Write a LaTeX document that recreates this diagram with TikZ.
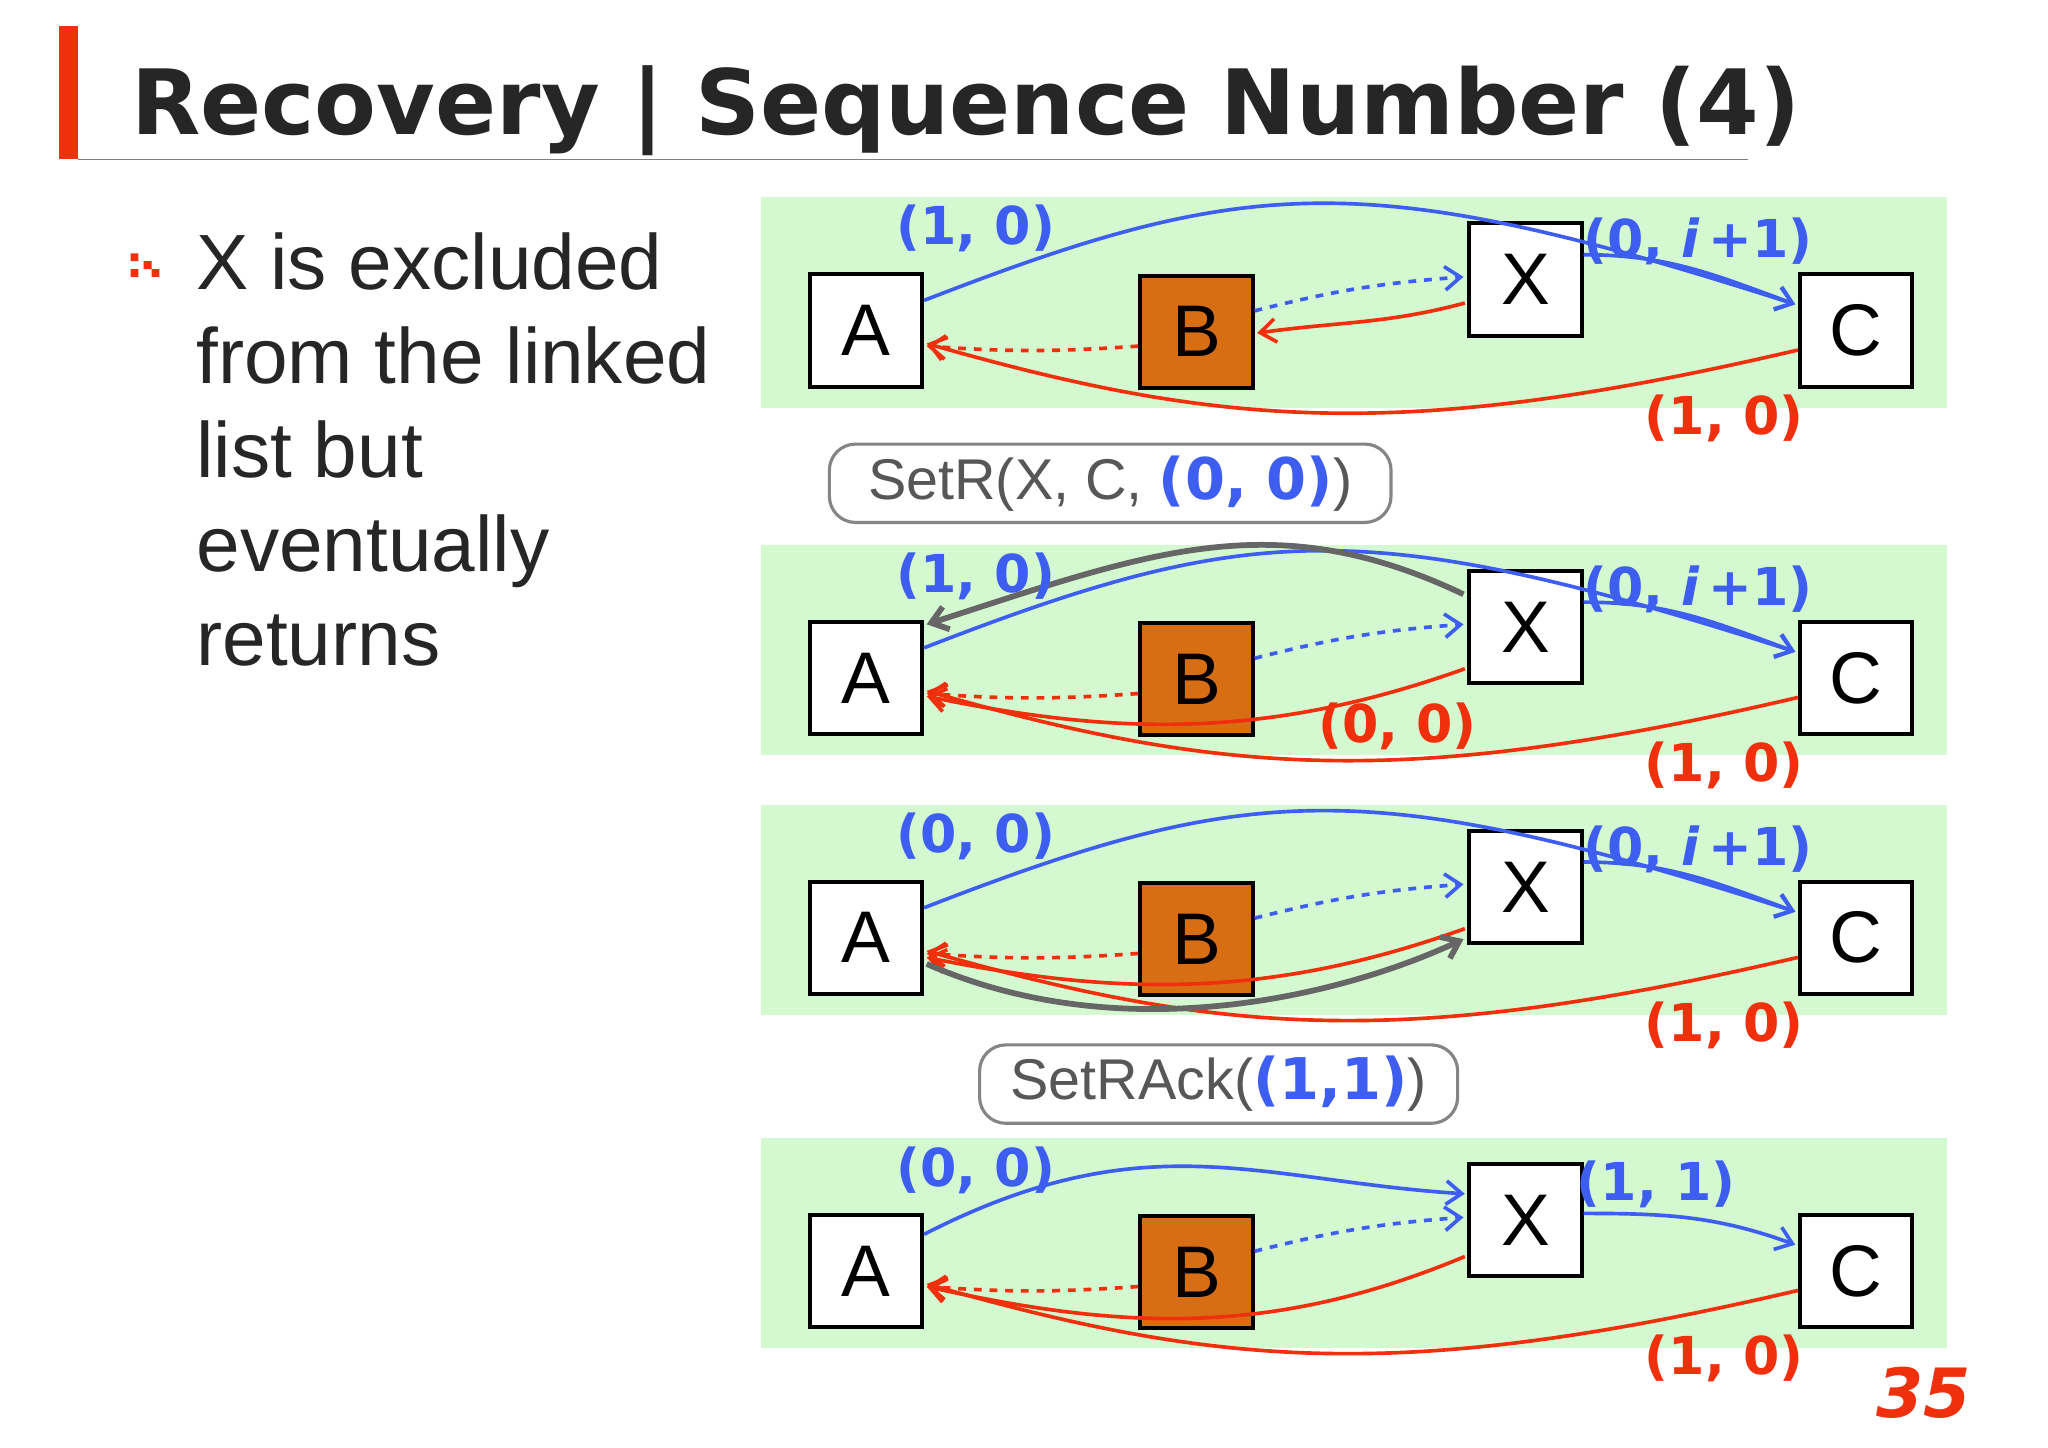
\documentclass[tikz,border=0pt]{standalone}
\usepackage{fontspec}
\setmainfont{Liberation Sans}
\newfontfamily\vfont{DejaVu Sans}
\usepackage{graphicx}
\usetikzlibrary{arrows.meta,calc}
\definecolor{pgreen}{HTML}{D4F8D0}
\definecolor{borange}{HTML}{D86E14}
\definecolor{lblue}{HTML}{3D5EF0}
\definecolor{lred}{HTML}{F0300C}
\definecolor{lgray}{HTML}{666666}
\tikzset{
 box/.style={draw=black,line width=1.5pt,minimum width=43pt,minimum height=43pt,inner sep=0pt,font=\fontsize{28}{30}\selectfont},
 tip/.style={-{Straight Barb[length=6pt,width=9pt]}},
 bl/.style={tip,draw=lblue,line width=1.4pt},
 rd/.style={tip,draw=lred,line width=1.4pt},
 gr/.style={tip,draw=lgray,line width=2.2pt},
 blab/.style={text=lblue,font=\vfont\bfseries\fontsize{20}{22}\selectfont},
 rlab/.style={text=lred,font=\vfont\bfseries\fontsize{20}{22}\selectfont},
 cmd/.style={draw=lgray!80,line width=1.2pt,rounded corners=10pt,fill=white,text=lgray!85!black,font=\fontsize{22}{24}\selectfont,inner sep=0pt}
}
\begin{document}
\begin{tikzpicture}[x=0.5pt,y=-0.5pt]
\fill[white] (0,0) rectangle (1568,1108);
\useasboundingbox (0,0) rectangle (1568,1108);
% title
\fill[lred] (45,20) rectangle (60,122);
\draw[gray,line width=0.6pt] (60,122) -- (1338,122);
\node[anchor=base west,inner sep=0pt] (title) at (100,103) {\resizebox{639pt}{!}{\vfont\bfseries\color{black!85}Recovery | Sequence Number (4)}};
% bullet
\fill[lred] (100,194) rectangle (106,200) (100,206) rectangle (106,212) (110,200) rectangle (116,206) (116,206) rectangle (122,212);
\node[anchor=north west,inner sep=0pt,align=left,font=\fontsize{30}{36}\selectfont,text=black!85] (txt) at (150,178) {X is excluded\\from the linked\\list but\\eventually\\returns};
% panels
\foreach \oy in {0,266,465,720}{\fill[pgreen] (583,151+\oy) rectangle (1491,312+\oy);}
\newcommand\mkboxes[2]{%
 \node[box,fill=white] (A#1) at (663,253+#2) {A};
 \node[box,fill=borange] (B#1) at (916,254+#2) {B};
 \node[box,fill=white] (X#1) at (1168,214+#2) {X};
 \node[box,fill=white] (C#1) at (1421,253+#2) {C};
 \draw[bl,dashed] ($(B#1.east)+(0,-16)$) to[bend left=5] ($(X#1.west)+(-3,-2)$);
 \draw[rd,dashed] ($(B#1.west)+(0,11)$) to[bend left=4] ($(A#1.east)+(2,12)$);
 \draw[rd] ($(C#1.west)+(0,15)$) .. controls ($(C#1.west)+(-300,85)$) and ($(A#1.east)+(230,75)$) .. ($(A#1.east)+(2,10)$);
}
\newcommand\blueAC[1]{%
 \draw[bl] ($(A#1.east)+(0,-23)$) .. controls ($(A#1.east)+(250,-120)$) and ($(C#1.west)+(-330,-125)$) .. ($(C#1.west)+(-2,-20)$);
 \draw[bl] ($(X#1.east)+(0,-19)$) to[out=0,in=160] ($(C#1.west)+(-2,-20)$);
}
% panel 1
\mkboxes{1}{0}\blueAC{1}
\draw[rd] ($(X1.west)+(-2,18)$) to[out=195,in=8] ($(B1.east)+(2,1)$);
\node[blab] (l1a) at (747,175) {(1, 0)};
\node[blab] (l1b) at (1300,185) {(0, \textit{i}\,+1)};
\node[rlab] (l1c) at (1320,320) {(1, 0)};
\node[cmd,minimum width=215pt,minimum height=30pt] (c1) at (850,370) {SetR(X, C, {\vfont\bfseries\color{lblue}(0, 0)})};
% panel 2
\mkboxes{2}{266}\blueAC{2}
\draw[rd] ($(X2.west)+(-2,32)$) .. controls ($(X2.west)+(-150,85)$) and ($(A2.east)+(150,45)$) .. ($(A2.east)+(2,14)$);
\draw[gr] ($(X2.west)+(-3,-25)$) .. controls ($(X2.west)+(-150,-95)$) and ($(A2.east)+(170,-95)$) .. ($(A2.east)+(2,-41)$);
\node[blab] (l2a) at (747,441) {(1, 0)};
\node[blab] (l2b) at (1300,451) {(0, \textit{i}\,+1)};
\node[rlab] (l2c) at (1070,556) {(0, 0)};
\node[rlab] (l2d) at (1320,586) {(1, 0)};
% panel 3
\mkboxes{3}{465}\blueAC{3}
\draw[rd] ($(X3.west)+(-2,32)$) .. controls ($(X3.west)+(-150,85)$) and ($(A3.east)+(150,45)$) .. ($(A3.east)+(2,15)$);
\draw[gr] ($(A3.east)+(2,20)$) .. controls ($(A3.east)+(150,85)$) and ($(X3.west)+(-100,85)$) .. ($(X3.west)+(-3,40)$);
\node[blab] (l3a) at (747,640) {(0, 0)};
\node[blab] (l3b) at (1300,650) {(0, \textit{i}\,+1)};
\node[rlab] (l3c) at (1320,785) {(1, 0)};
\node[cmd,minimum width=183pt,minimum height=30pt] (c2) at (933,830) {SetRAck({\vfont\bfseries\color{lblue}(1,1)})};
% panel 4
\mkboxes{4}{720}
\draw[bl] ($(A4.east)+(0,-28)$) .. controls ($(A4.east)+(170,-115)$) and ($(X4.west)+(-160,-30)$) .. ($(X4.west)+(-2,-20)$);
\draw[bl] ($(X4.east)+(0,-5)$) to[out=0,in=160] ($(C4.west)+(-2,-20)$);
\draw[rd] ($(X4.west)+(-2,28)$) .. controls ($(X4.west)+(-150,90)$) and ($(A4.east)+(150,45)$) .. ($(A4.east)+(2,12)$);
\node[blab] (l4a) at (747,896) {(0, 0)};
\node[blab] (l4b) at (1268,907) {(1, 1)};
\node[rlab] (l4c) at (1320,1040) {(1, 0)};
\node[text=lred,font=\vfont\bfseries\itshape\fontsize{26}{28}\selectfont] (pg) at (1473,1066) {35};
\end{tikzpicture}
\end{document}
